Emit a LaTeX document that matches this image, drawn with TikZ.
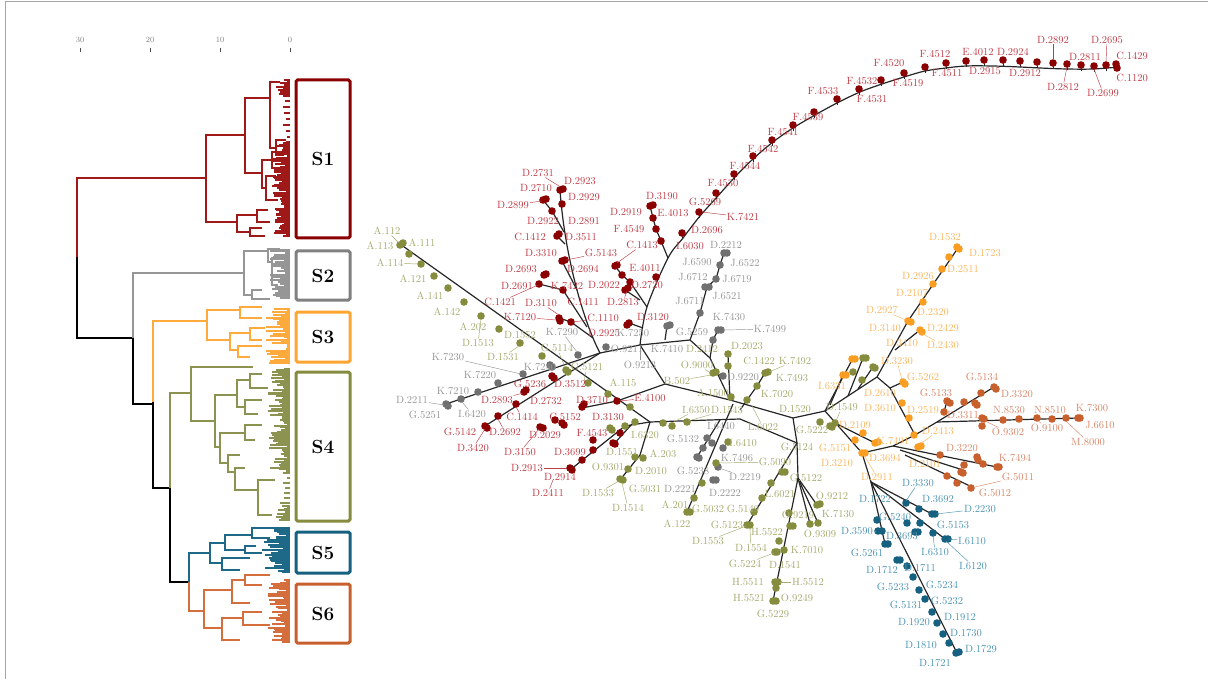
\documentclass[tikz,border=0pt]{standalone}
\usepackage{tikz}
\definecolor{s1c}{RGB}{139,0,0}
\definecolor{s1t}{RGB}{190,60,70}
\definecolor{s2c}{RGB}{112,112,112}
\definecolor{s2t}{RGB}{150,150,150}
\definecolor{s3c}{RGB}{250,158,35}
\definecolor{s3t}{RGB}{250,182,95}
\definecolor{s4c}{RGB}{133,140,62}
\definecolor{s4t}{RGB}{165,170,110}
\definecolor{s5c}{RGB}{22,96,128}
\definecolor{s5t}{RGB}{75,148,178}
\definecolor{s6c}{RGB}{200,96,45}
\definecolor{s6t}{RGB}{215,135,105}
\definecolor{d1}{RGB}{160,25,25}
\definecolor{d2}{RGB}{150,150,150}
\definecolor{d3}{RGB}{255,170,60}
\definecolor{d4}{RGB}{140,146,80}
\definecolor{d5}{RGB}{30,105,135}
\definecolor{d6}{RGB}{212,110,60}
\definecolor{b2}{RGB}{128,128,128}
\definecolor{b3}{RGB}{255,165,50}

\begin{document}
\begin{tikzpicture}[x=1pt,y=-1pt,
br/.style={line width=1.1pt},
edge/.style={line width=1.2pt,black!85},
lbl/.style={font=\fontsize{10.5}{11}\selectfont,inner sep=0.6pt},
lead/.style={line width=0.45pt},
sbox/.style={draw,line width=3pt,rounded corners=1.5pt,minimum width=54pt,font=\fontsize{19}{20}\selectfont\bfseries}
]
\useasboundingbox (0,0) rectangle (1208,679);
\draw[gray!70,line width=1pt] (5,679) -- (5,2) -- (1208,2);

% scale of the dendrogram
\foreach \x/\v in {80/30,150/20,220/10,290/0} {
  \node[font=\fontsize{8}{9}\selectfont,text=gray] (t\v) at (\x,40) {\v};
  \draw[line width=1pt,black!70] (\x,48) -- (\x,52);
}

% dendrogram: fine leaves
\pgfmathsetseed{11}
\foreach \c/\ya/\yb/\st/\xa/\w in {d1/79/97/1.8/276/12,d1/100/138/6/282/6,d1/141/237/1.6/272/16,d2/249/299/1.8/270/18,d3/308/362/1.5/266/22,d4/368/470/1.5/268/20,d4/472/503/5/280/8,d4/505/520/1.6/276/12,d5/527/573/1.6/262/26,d6/579/643/1.6/268/20} {
  \pgfmathsetmacro\ys{\ya+\st}
  \foreach \y in {\ya,\ys,...,\yb} {
    \pgfmathsetmacro\xr{\xa+\w*rnd}
    \draw[\c,line width=0.8pt] (290,\y) -- (\xr,\y) -- (\xr,\y+1) -- (290,\y+1);
  }
}

% dendrogram: upper levels
\draw[br,d1] (206,178) -- (77,178) -- (77,257);
\draw[br,black] (77,257) -- (77,338) -- (133,338);
\draw[br,d2] (244,273) -- (133,273) -- (133,338);
\draw[br,black] (133,338) -- (133,404) -- (153,404);
\draw[br,d3] (207,321) -- (153,321) -- (153,402);
\draw[br,black] (153,402) -- (153,488) -- (170,488);
\draw[br,d4] (191,393) -- (170,393) -- (170,488);
\draw[br,black] (170,488) -- (170,582) -- (189,582);
\draw[br,d5] (210,553) -- (189,553) -- (189,582);
\draw[br,d6] (189,582) -- (189,611) -- (204,611);

% S1
\draw[br,d1] (245,135) -| (206,222) -- (237,222);
\draw[br,d1] (270,98) -| (245,173) -- (262,173);
\draw[br,d1] (280,82) -| (270,148) -- (276,148);
\draw[br,d1] (286,140) -| (276,155) -- (284,155);
\draw[br,d1] (272,160) -| (262,188) -- (266,188);
\draw[br,d1] (282,152) -| (272,168) -- (280,168);
\draw[br,d1] (276,176) -| (266,200) -- (278,200);
\draw[br,d1] (257,215) -| (237,232) -- (250,232);
\draw[br,d1] (268,210) -| (257,222) -- (270,222);
\draw[br,d1] (262,228) -| (250,236) -- (265,236);
% S2
\draw[br,d2] (268,251) -| (244,295) -- (252,295);
\draw[br,d2] (280,249) -| (268,262) -- (272,262);
\draw[br,d2] (282,258) -| (272,285) -- (278,285);
\draw[br,d2] (262,290) -| (252,299) -- (270,299);
% S3
\draw[br,d3] (240,310) -| (207,340) -- (230,340);
\draw[br,d3] (262,307) -| (240,318) -- (262,318);
\draw[br,d3] (250,333) -| (230,350) -- (238,350);
\draw[br,d3] (265,328) -| (250,340) -- (262,340);
\draw[br,d3] (262,346) -| (238,357) -- (250,357);
% S4
\draw[br,d4] (253,367) -| (191,421) -- (215,421);
\draw[br,d4] (237,395) -| (215,447) -- (220,447);
\draw[br,d4] (250,380) -| (237,407) -- (245,407);
\draw[br,d4] (262,374) -| (250,388) -- (268,388);
\draw[br,d4] (262,400) -| (245,414) -- (258,414);
\draw[br,d4] (245,433) -| (220,463) -- (228,463);
\draw[br,d4] (262,425) -| (245,440) -- (255,440);
\draw[br,d4] (240,455) -| (228,472) -- (235,472);
\draw[br,d4] (245,468) -| (235,490) -- (258,490);
\draw[br,d4] (275,480) -| (258,515) -- (272,515);
% S5
\draw[br,d5] (225,543) -| (210,563) -- (222,563);
\draw[br,d5] (252,535) -| (225,550) -- (245,550);
\draw[br,d5] (280,528) -| (252,538) -- (270,538);
\draw[br,d5] (256,546) -| (245,553) -- (262,553);
\draw[br,d5] (250,558) -| (222,570) -- (240,570);
% S6
\draw[br,d6] (232,590) -| (204,628) -- (222,628);
\draw[br,d6] (245,580) -| (232,603) -- (250,603);
\draw[br,d6] (262,585) -| (245,575) -- (270,575);
\draw[br,d6] (243,618) -| (222,640) -- (240,640);
\draw[br,d6] (262,612) -| (243,625) -- (270,625);

% cluster boxes
\node[sbox,draw=s1c,minimum height=158pt] (S1) at (323,159) {S1};
\node[sbox,draw=b2,minimum height=49pt] (S2) at (323,275.5) {S2};
\node[sbox,draw=b3,minimum height=50pt] (S3) at (323,337) {S3};
\node[sbox,draw=s4c,minimum height=149pt] (S4) at (323,446.5) {S4};
\node[sbox,draw=s5c,minimum height=41pt] (S5) at (323,552.5) {S5};
\node[sbox,draw=s6c,minimum height=59pt] (S6) at (323,613.5) {S6};

% spanning tree: junctions
\coordinate (j1) at (600,353);
\coordinate (ja) at (400,244);
\coordinate (jk) at (650,422);
\coordinate (jg) at (446,404);
\coordinate (jr) at (485,426);
\coordinate (jt) at (560,190);
\coordinate (jc) at (640,345);
\coordinate (jd) at (690,340);
\coordinate (jb) at (665,384);
\coordinate (je) at (582,408);
\coordinate (jm) at (793,418);
\coordinate (jo) at (825,411);
\coordinate (jp) at (877,377);
\coordinate (jq) at (958,248);
\coordinate (js) at (797,443);
\coordinate (ju) at (862,453);
\coordinate (jv) at (915,435);
\coordinate (jw) at (937,422);
\coordinate (jx) at (893,446);
\coordinate (jy) at (871,482);

\draw[edge] (ja) -- (jk);
\draw[edge] (jg) -- (j1);
\draw[edge] (jr) -- (j1);
\draw[edge] (j1) .. controls (585,325) and (565,260) .. (jt);
\draw[edge] (543,200) -- (552,211) -- (564,232);
\draw[edge] (557,236) -- (565,244);
\draw[edge] (562,261) -- (577,290);
\draw[edge] (539,284) -- (563,290) -- (587,327);
\draw[edge] (559,318) -- (571,322) -- (593,338);
\draw[edge] (j1) -- (jc) -- (jd);
\draw[edge] plot[smooth,tension=0.55] coordinates {(640,345) (647,307) (668,258) (683,238) (700,216) (717,197) (735,177) (753,159) (773,142) (793,128) (815,115) (837,103) (860,92) (882,84) (904,77) (925,71) (946,68) (966,66) (993,66) (1020,67) (1040,68) (1067,69) (1093,69) (1119,67)};
\draw[edge] (650,206) -- (653,218) -- (656,229) -- (661,241) -- (668,258);
\draw[edge] (615,266) -- (622,275) -- (630,282) -- (647,307);
\draw[edge] (625,290) -- (640,300);
\draw[edge] (629,323) -- (643,328);
\draw[edge] (jd) -- (700,313) -- (707,287) -- (716,279) -- (720,265) -- (724,253);
\draw[edge] (667,326) -- (665,340);
\draw[edge] (jd) -- (710,358) -- (730,400);
\draw[edge] (718,330) -- (713,340) -- (710,358);
\draw[edge] (728,354) -- (730,400);
\draw[edge] (713,373) -- (723,376);
\draw[edge] (jc) -- (jb);
\draw[edge] (jb) -- (617,401) -- (je);
\draw[edge] (jb) -- (730,400) -- (jm);
\draw[edge] (765,373) -- (757,386) -- (747,400) -- (740,410);
\draw[edge] (jk) -- (740,419) -- (js);
\draw[edge] (jm) -- (js);
\draw[edge] (jk) -- (625,426) -- (570,470);
\draw[edge] (632,424) -- (613,445);
\draw[edge] (jk) -- (640,455) -- (620,480);
\draw[edge] (733,404) -- (687,512);
\draw[edge] (720,420) -- (697,457);
\draw[edge] (jm) -- (jo) -- (jp) -- (908,321) -- (jq);
\draw[edge] (895,350) -- (920,330);
\draw[edge] (jo) -- (852,360);
\draw[edge] (830,405) -- (843,375);
\draw[edge] (848,396) -- (863,358);
\draw[edge] (858,389) -- (873,367);
\draw[edge] (jp) -- (890,388) -- (jv);
\draw[edge] (890,388) -- (903,382);
\draw[edge] (jv) -- (jw) -- (994,387);
\draw[edge] (jw) -- (1078,418);
\draw[edge] (944,412) -- (947,401);
\draw[edge] (jv) -- (jx) -- (ju);
\draw[edge] (jx) -- (997,467);
\draw[edge] (900,450) -- (963,470);
\draw[edge] (905,455) -- (972,487);
\draw[edge] (jo) -- (ju);
\draw[edge] (835,423) -- (875,443);
\draw[edge] (ju) -- (jy);
\draw[edge] (jy) -- (932,514);
\draw[edge] (jy) -- (945,539);
\draw[edge] (jy) -- (885,544);
\draw[edge] (jy) -- (957,653);
\draw[edge] (js) -- (747,525);
\draw[edge] (js) -- (798,478) -- (773,601);
\draw[edge] (798,478) -- (817,505);
\draw[edge] (798,478) -- (810,524);
\draw[edge] (798,478) -- (818,523);

% arc dots with stems
\foreach \x/\y in {682/233,699/212,716/193,734/174,753/156,772/140,793/125,814/112,837/99,859/89,881/80,904/73,925/67,946/63,966/61,984/60,1003/60,1020/61,1037/62,1053/63,1067/64,1081/65,1094/66,1106/65,1116/64} {
  \draw[edge,line width=0.7pt] (\x,\y) -- ++(0.6,6);
  \fill[s1c] (\x,\y) circle (3.8);
}
\fill[s1c] (1117,68) circle (3.8);

% dots
\foreach \x/\y in {560/190,563/189,562/204,543/200,546/199,552/211,557/236,559/234,562/261,565/260,544/275,546/274,539/284,563/290,559/318,560/321,571/322,615/266,617/265,622/275,630/282,625/290,628/288,656/277,650/206,653/205,653/218,656/229,661/241,629/323,627/325,485/426,487/428,498/416,516/404,524/392,526/390,552/376,554/378,582/407,584/404,617/401,540/427,543/428,555/420,562/423,564/425,593/450,582/460,570/468,572/470,620/433,613/443,615/444,593/440}
  \fill[s1c] (\x,\y) circle (3.8);
\foreach \x/\y in {446/404,448/406,461/399,478/392,498/383,523/374,550/365,552/367,578/355,606/347,667/326,670/325,718/330,721/330,713/340,705/287,709/287,700/313,716/279,720/265,724/253,727/253,723/376,707/438,712/443,703/448,697/457,699/458,723/448,718/467,713/480,716/480}
  \fill[s2c] (\x,\y) circle (3.8);
\foreach \x/\y in {400/245,403/243,409/254,421/264,434/276,448/288,464/302,481/316,499/329,520/343,542/356,566/370,568/372,588/383,608/394,630/407,610/428,612/430,625/426,635/422,635/457,643/458,628/469,620/479,623/480,663/423,672/426,687/422,713/373,716/372,728/354,728/366,731/397,765/373,768/372,757/386,747/400,728/442,716/463,702/483,694/498,687/512,690/512,782/472,785/472,771/483,762/498,754/512,747/525,750/525,789/513,790/526,793/526,779/541,775/552,777/552,784/550,775/582,778/582,776/588,773/601,776/601,817/505,820/504,810/524,818/523,863/358,866/358,853/372,873/367,875/368,862/380,820/422,830/426,832/427,835/423}
  \fill[s4c] (\x,\y) circle (3.8);
\foreach \x/\y in {957/247,959/249,949/257,942/269,933/284,923/302,908/321,911/322,920/330,922/332,852/359,855/359,843/375,846/375,903/382,905/384,902/403,909/418,914/435,918/447,921/446,863/433,855/440,875/443,878/442,862/453,865/453}
  \fill[s3c] (\x,\y) circle (3.8);
\foreach \x/\y in {947/401,950/403,944/412,964/402,975/403,977/405,981/393,994/387,996/389,982/418,984/419,982/426,1003/420,1019/419,1037/418,1052/419,1066/418,1078/418,1080/418,940/455,977/457,978/460,983/464,997/467,999/467,964/465,963/473,961/472,947/476,957/483,971/488}
  \fill[s6c] (\x,\y) circle (3.8);
\foreach \x/\y in {906/503,919/509,932/514,935/514,920/523,933/533,945/539,948/539,907/523,915/532,918/532,877/520,878/531,882/531,885/544,888/544,897/560,900/560,907/566,913/577,919/590,925/599,932/612,937/623,943/634,949/643,956/653,959/652}
  \fill[s5c] (\x,\y) circle (3.8);

% labels, red
\foreach \x/\y/\lab in {580/181/D.2923,536/188/D.2710,584/197/D.2929,543/221/D.2922,584/221/D.2891,530/237/C.1412,581/237/D.3511,541/253/D.3310,521/269/D.2693,583/269/D.2694,517/286/D.2691,567/286/K.7422,583/302/C.1411,604/333/D.2925,690/246/I.6030,645/268/E.4011,604/285/D.2022,647/285/D.2720,653/317/D.3120,662/196/D.3190,626/212/D.2919,673/213/E.4013,629/229/F.4549,705/202/G.5269,707/230/D.2696,723/183/F.4530,745/166/F.4544,763/149/F.4542,783/132/F.4541,808/117/F.4539,823/91/F.4533,862/81/F.4532,872/99/F.4531,889/63/F.4520,908/83/F.4519,935/54/F.4512,947/73/F.4511,978/52/E.4012,985/71/D.2915,1013/52/D.2924,1025/73/D.2912,1085/57/D.2811,1132/56/C.1429,1132/78/C.1120,530/384/G.5236,570/384/D.3512,546/401/D.2732,592/400/D.3710,565/417/C.5152,608/417/D.3130,460/432/G.5142,592/433/F.4543,545/435/D.2029,570/452/D.3699,560/477/D.2914}
  \node[lbl,text=s1t] at (\x,\y) {\lab};
\foreach \x/\y/\lab/\a/\b in {538/173/D.2731/559/186,513/205/D.2899/542/201,601/253/G.5143/566/260,500/302/C.1421/538/285,541/303/D.3110/559/315,520/317/K.7120/556/320,603/318/C.1110/573/322,642/245/C.1413/617/263,623/302/D.2813/627/291,743/217/K.7421/702/212,1053/40/D.2892/1053/59,1063/87/D.2812/1067/67,1103/93/D.2699/1094/69,1107/40/D.2695/1106/62,497/400/D.2893/523/393,650/398/E.4100/619/401,522/417/C.1414/516/407,505/432/D.2692/498/419,473/448/D.3420/485/429,520/452/D.3150/539/429,527/468/D.2913/567/468,548/493/D.2411/553/480}
  {\node[lbl,text=s1t] (n) at (\x,\y) {\lab}; \draw[lead,s1t] (n) -- (\a,\b);}

% labels, gray
\foreach \x/\y/\lab in {480/375/K.7220,540/367/K.7240,453/391/K.7210,425/415/G.5251,627/349/O.9211,633/333/K.7250,667/349/K.7410,726/245/D.2212,697/262/J.6590,745/263/J.6522,693/277/J.6712,737/279/J.6719,690/301/J.6711,727/296/J.6521,729/317/K.7430,692/332/G.5259,743/377/D.9220,683/439/G.5132,721/426/I.6440,737/458/K.7496,693/471/G.5238,725/493/D.2222,680/489/D.2221}
  \node[lbl,text=s2t] at (\x,\y) {\lab};
\foreach \x/\y/\lab/\a/\b in {448/357/K.7230/521/374,562/332/K.7290/577/352,412/400/D.2211/444/405,472/414/I.6420/462/402,640/365/O.9213/640/348,770/329/K.7499/723/330,745/477/D.2219/719/468}
  {\node[lbl,text=s2t] (n) at (\x,\y) {\lab}; \draw[lead,s2t] (n) -- (\a,\b);}

% labels, olive
\foreach \x/\y/\lab in {380/246/A.113,422/243/A.111,413/279/A.121,430/296/A.141,447/312/A.142,473/327/A.202,520/335/D.1552,623/383/A.115,702/349/D.2412,747/346/D.2023,759/361/C.1422,792/378/K.7493,777/394/K.7020,713/393/A.1500,795/409/D.1520,812/430/G.5222,645/435/I.6320,622/452/D.1551,663/454/A.203,651/471/D.2010,645/489/G.5031,675/505/A.201,708/509/G.5032,677/524/A.122,743/443/I.6410,780/494/L.6021,743/509/G.5149,727/525/G.5123,767/532/H.5522,798/515/O.9219,807/550/K.7010,785/565/D.1541,748/582/H.5511,749/598/H.5521,797/598/O.9249,773/614/G.5229,806/478/G.5122,832/496/O.9212,838/514/K.7130,820/534/O.9309,797/447/G.5124}
  \node[lbl,text=s4t] at (\x,\y) {\lab};
\foreach \x/\y/\lab/\a/\b in {387/231/A.112/399/243,390/263/A.114/418/264,478/343/D.1513/481/319,503/357/D.1531/519/346,557/348/G.5114/565/367,587/367/G.5121/584/381,697/365/O.9000/711/373,677/381/B.502/711/375,795/361/K.7492/769/372,763/427/L.6022/752/406,842/407/D.1549/836/421,696/410/I.6350/672/423,727/410/D.1543/688/421,608/467/O.9301/626/469,598/493/D.1533/619/481,628/508/D.1514/622/483,775/462/G.5090/718/463,708/541/D.1553/746/526,751/548/D.1554/750/528,745/564/G.5224/774/553,808/582/H.5512/780/582}
  {\node[lbl,text=s4t] (n) at (\x,\y) {\lab}; \draw[lead,s4t] (n) -- (\a,\b);}

% labels, orange
\foreach \x/\y/\lab in {945/237/D.1532,985/253/D.1723,963/269/D.2511,918/276/D.2926,912/293/D.2107,933/312/D.2320,885/328/D.3140,943/328/D.2429,902/343/D.3410,832/386/I.6331,923/377/G.5262,880/393/D.2610,880/408/D.3610,923/410/D.2519,925/464/D.2101,855/425/D.2109,893/441/K.7491,835/448/G.5151,885/458/D.3694,837/463/D.3210}
  \node[lbl,text=s3t] at (\x,\y) {\lab};
\foreach \x/\y/\lab/\a/\b in {882/310/D.2927/906/320,943/345/D.2430/921/333,897/361/D.3230/902/380,938/431/D.2413/919/445,877/477/D.2911/864/455}
  {\node[lbl,text=s3t] (n) at (\x,\y) {\lab}; \draw[lead,s3t] (n) -- (\a,\b);}

% labels, brown
\foreach \x/\y/\lab in {982/377/G.5134,1017/394/D.3320,936/393/G.5133,963/415/D.3311,1009/410/N.8530,1050/410/N.8510,1092/408/K.7300,1100/425/J.6610,962/448/D.3220,1015/458/K.7494,995/493/G.5012}
  \node[lbl,text=s6t] at (\x,\y) {\lab};
\foreach \x/\y/\lab/\a/\b in {1008/432/O.9302/985/421,1047/428/O.9100/1037/420,1088/442/M.8000/1066/421,1018/477/G.5011/975/487}
  {\node[lbl,text=s6t] (n) at (\x,\y) {\lab}; \draw[lead,s6t] (n) -- (\a,\b);}

% labels, blue
\foreach \x/\y/\lab in {875/499/D.1722,938/499/D.3692,953/525/G.5153,902/536/D.3693,867/553/G.5261,882/570/D.1712,920/568/D.1711,942/585/G.5234,893/587/G.5233,947/601/G.5232,906/605/G.5131,960/617/D.1912,914/622/D.1920,966/633/D.1730,921/645/D.1810,981/649/D.1729,935/663/D.1721,895/517/G.5240}
  \node[lbl,text=s5t] at (\x,\y) {\lab};
\foreach \x/\y/\lab/\a/\b in {918/483/D.3330/906/501,980/509/D.2230/936/514,857/531/D.3590/876/531,972/541/I.6110/948/539,935/552/I.6310/933/535,973/566/I.6120/946/541}
  {\node[lbl,text=s5t] (n) at (\x,\y) {\lab}; \draw[lead,s5t] (n) -- (\a,\b);}
\end{tikzpicture}
\end{document}
